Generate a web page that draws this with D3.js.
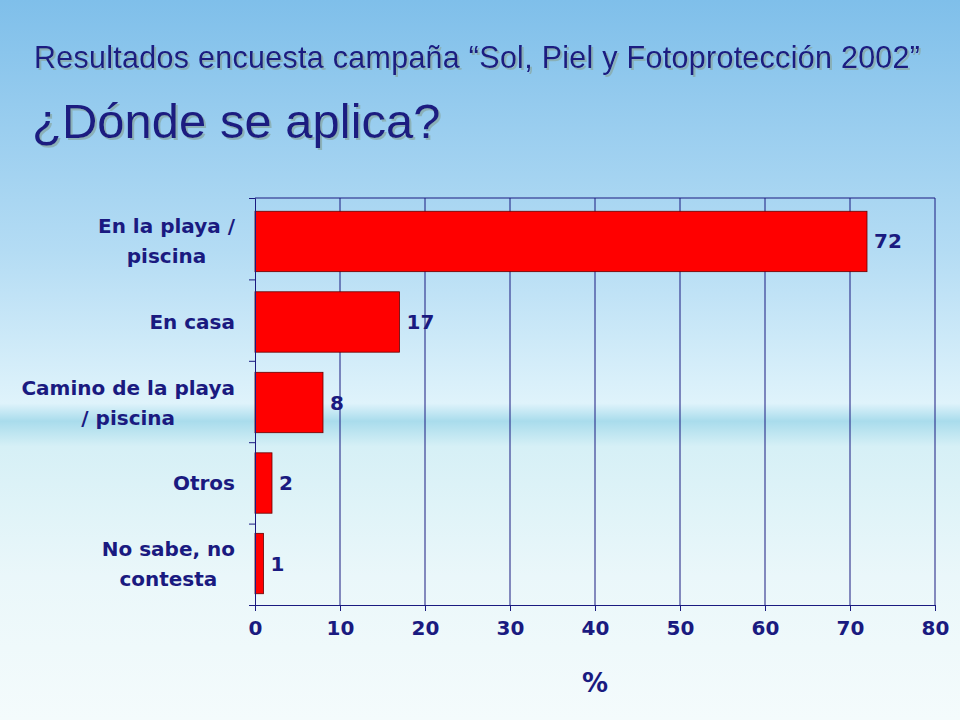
<!DOCTYPE html><html><head><meta charset="utf-8"><script src="https://cdn.jsdelivr.net/npm/d3@7"></script>
<style>body{margin:0}</style></head><body><script>
const categories=[["En la playa /","piscina"],["En casa"],["Camino de la playa","/ piscina"],["Otros"],["No sabe, no","contesta"]];
const values=[72,17,8,2,1];
const ticks=[0,10,20,30,40,50,60,70,80];
const W=960,H=720,navy="#1a1a80";
const svg=d3.select("body").append("svg").attr("width",W).attr("height",H);
const defs=svg.append("defs");
const g=defs.append("linearGradient").attr("id","bg").attr("x1",0).attr("y1",0).attr("x2",0).attr("y2",1);
[[0,"#7fbfea"],[0.35,"#b4dcf4"],[0.56,"#dff3fb"],[0.585,"#a9dcec"],[0.62,"#d6f0f6"],[0.8,"#eaf7fa"],[1,"#f4fbfc"]].forEach(s=>g.append("stop").attr("offset",s[0]).attr("stop-color",s[1]));
const f=defs.append("filter").attr("id","sh");f.append("feDropShadow").attr("dx",2).attr("dy",2).attr("stdDeviation",0.5).attr("flood-color","#8aa").attr("flood-opacity",0.8);
svg.append("rect").attr("width",W).attr("height",H).attr("fill","url(#bg)");
svg.append("text").attr("x",34).attr("y",68).attr("font-family","Liberation Sans").attr("font-size",30.5).attr("fill",navy).attr("filter","url(#sh)").attr("textLength",886).text("Resultados encuesta campaña “Sol, Piel y Fotoprotección 2002”");
svg.append("text").attr("x",32).attr("y",138).attr("font-family","Liberation Sans").attr("font-size",49).attr("fill",navy).attr("filter","url(#sh)").text("¿Dónde se aplica?");
const x=d3.scaleLinear().domain([0,80]).range([255,935]);
const y=d3.scaleBand().domain(d3.range(5)).range([200,605]).paddingInner(0.25).paddingOuter(0.14);
const ff="DejaVu Sans",fs=20;
svg.append("g").selectAll("line").data(ticks.slice(1)).join("line").attr("x1",d=>x(d)).attr("x2",d=>x(d)).attr("y1",198).attr("y2",605).attr("stroke",navy).attr("stroke-width",1);
svg.append("line").attr("x1",255).attr("x2",935).attr("y1",198).attr("y2",198).attr("stroke",navy);
svg.selectAll(".bar").data(values).join("rect").attr("x",x(0)).attr("y",(d,i)=>y(i)).attr("width",d=>x(d)-x(0)).attr("height",y.bandwidth()).attr("fill","#ff0000").attr("stroke","#600").attr("stroke-width",0.8);
svg.selectAll(".val").data(values).join("text").attr("x",d=>x(d)+7).attr("y",(d,i)=>y(i)+y.bandwidth()/2+7).attr("font-family",ff).attr("font-weight","bold").attr("font-size",fs).attr("fill",navy).text(d=>d);
const ax=svg.append("g").attr("transform","translate(0,605)").call(d3.axisBottom(x).tickValues(ticks).tickSize(6).tickPadding(10));
ax.selectAll("path,line").attr("stroke",navy);ax.selectAll("text").attr("font-family",ff).attr("font-weight","bold").attr("font-size",fs).attr("fill",navy);
const ay=svg.append("g").attr("transform","translate(255,0)").call(d3.axisLeft(d3.scaleLinear().domain([0,5]).range([605,198])).ticks(5).tickSize(6).tickFormat(""));
ay.selectAll("path,line").attr("stroke",navy);
categories.forEach((c,i)=>{const cy=y(i)+y.bandwidth()/2;
  const t=svg.append("text").attr("text-anchor","middle").attr("font-family",ff).attr("font-weight","bold").attr("font-size",fs).attr("fill",navy);
  const spans=c.map((l,j)=>t.append("tspan").attr("y",cy+7+(j-(c.length-1)/2)*30).text(l));
  const mw=d3.max(spans,s=>s.node().getComputedTextLength());
  spans.forEach(s=>s.attr("x",235-mw/2));});
svg.append("text").attr("x",595).attr("y",692).attr("text-anchor","middle").attr("font-family",ff).attr("font-weight","bold").attr("font-size",26).attr("fill",navy).text("%");
</script></body></html>
